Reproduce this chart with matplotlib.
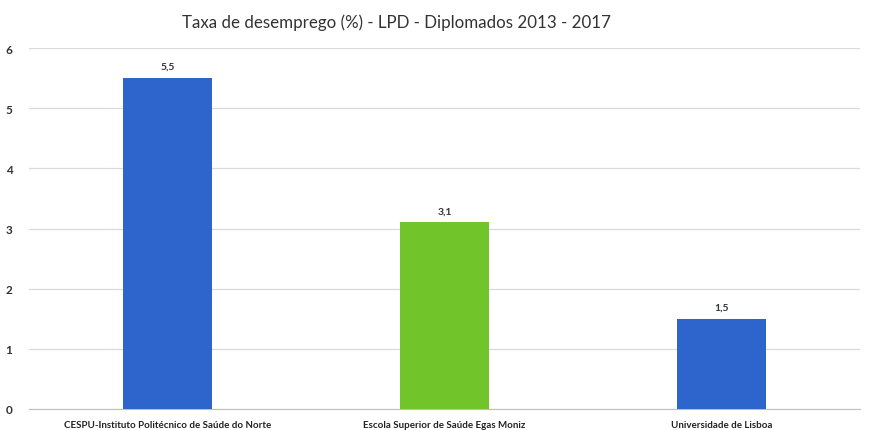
import matplotlib.pyplot as plt

categories = ['CESPU-Instituto Politécnico de Saúde do Norte',
              'Escola Superior de Saúde Egas Moniz',
              'Universidade de Lisboa']
values = [5.5, 3.1, 1.5]
labels = ['5,5', '3,1', '1,5']
colors = ['#2E65CC', '#72C42B', '#2E65CC']

plt.rcParams['font.family'] = ['Lato', 'DejaVu Sans']

fig = plt.figure(figsize=(8.77, 4.31), dpi=100)
ax = fig.add_axes([0.033, 0.049, 0.948, 0.837])

x = range(len(categories))
ax.bar(x, values, width=0.32, color=colors, zorder=3)

for xi, v, lab in zip(x, values, labels):
    ax.text(xi, v + 0.12, lab, ha='center', va='bottom', fontsize=7.5,
            fontweight='bold', color='#333333')

ax.set_xlim(-0.5, 2.5)
ax.set_ylim(0, 6)
ax.set_yticks(range(0, 7))
ax.grid(axis='y', color='#D9D9D9', linewidth=0.9, zorder=0)
ax.set_xticks(list(x))
ax.set_xticklabels(categories, fontsize=7.0, fontweight='bold', color='#222222')
ax.tick_params(axis='y', labelsize=8.5, length=0, pad=12, labelcolor='#333333')
for t in ax.get_yticklabels():
    t.set_fontweight('bold')
ax.tick_params(axis='x', length=0, pad=8)
for side in ['top', 'right', 'left']:
    ax.spines[side].set_visible(False)
ax.spines['bottom'].set_color('#BFBFBF')
ax.set_axisbelow(True)

fig.text(0.452, 0.948, 'Taxa de desemprego (%) - LPD - Diplomados 2013 - 2017',
         ha='center', va='center', fontsize=12.2, color='#333333')

fig.savefig('out.png', dpi=100, facecolor='white')
